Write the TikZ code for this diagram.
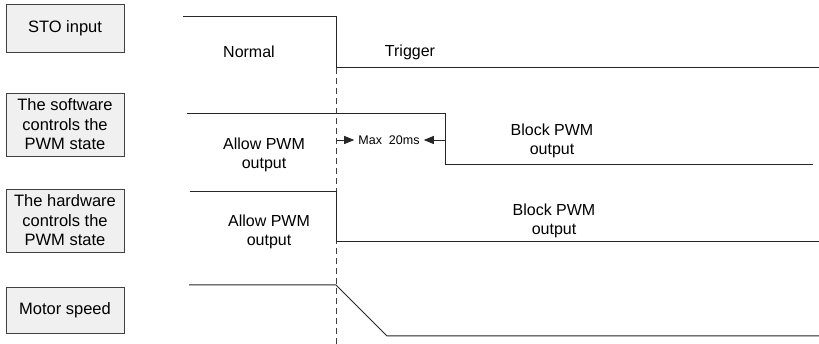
\documentclass[tikz,border=0pt]{standalone}
\usepackage{fontspec}
\setmainfont{Liberation Sans}
\usetikzlibrary{arrows.meta}
\begin{document}
\begin{tikzpicture}[x=1pt,y=-1pt,
  lbl/.style={draw=black!75,fill=black!6,line width=0.8pt,minimum width=118pt,align=center,inner sep=0pt,font=\fontsize{16.5}{19.5}\selectfont},
  wave/.style={draw=black!85,line width=1pt},
  txt/.style={align=center,inner sep=0pt,font=\fontsize{16}{19.5}\selectfont},
  small/.style={inner xsep=4pt,inner ysep=0pt,font=\fontsize{12.5}{14}\selectfont},
  marker/.style={draw=black!75,line width=0.8pt,dash pattern=on 6pt off 4pt},
  arr/.style={draw=black!85,line width=0.8pt,-{Triangle[length=10pt,width=8pt]}}]
\useasboundingbox (0,0) rectangle (819,344);
% label boxes
\node[lbl,minimum height=48pt] (sto) at (65,28) {STO input};
\node[lbl,minimum height=63pt] (sw) at (65,124.5) {The software\\controls the\\PWM state};
\node[lbl,minimum height=63pt] (hw) at (65,220.5) {The hardware\\controls the\\PWM state};
\node[lbl,minimum height=46pt] (ms) at (65,310) {Motor speed};
% dashed trigger marker
\coordinate (mtop) at (336,68);
\coordinate (mbot) at (336,344);
\draw[marker] (mtop) -- (mbot);
% STO waveform
\coordinate (s0) at (183,17);
\coordinate (s1) at (336,17);
\coordinate (s2) at (336,68);
\coordinate (s3) at (819,68);
\draw[wave] (s0) -- (s1) -- (s2) -- (s3);
\node[txt] (normal) at (249,52) {Normal};
\node[txt] (trig) at (410,52) {Trigger};
% software waveform
\coordinate (w0) at (187,114);
\coordinate (w1) at (445,114);
\coordinate (w2) at (445,165);
\coordinate (w3) at (813,165);
\draw[wave] (w0) -- (w1) -- (w2) -- (w3);
\node[txt] (swallow) at (264,155) {Allow PWM\\output};
\node[txt] (swblock) at (552,141) {Block PWM\\output};
\node[small] (max) at (389,140) {Max\ \ 20ms};
\coordinate (a0) at (336,140);
\coordinate (a1) at (445,140);
\draw[arr] (a0) -- (max.west);
\draw[arr] (a1) -- (max.east);
% hardware waveform
\coordinate (h0) at (190,192);
\coordinate (h1) at (336,192);
\coordinate (h2) at (336,242);
\coordinate (h3) at (819,242);
\draw[wave] (h0) -- (h1) -- (h2) -- (h3);
\node[txt] (hwallow) at (269,232) {Allow PWM\\output};
\node[txt] (hwblock) at (554,221) {Block PWM\\output};
% motor speed
\coordinate (m0) at (189,285);
\coordinate (m1) at (336,285);
\coordinate (m2) at (387,336);
\coordinate (m3) at (819,336);
\draw[wave] (m0) -- (m1) -- (m2) -- (m3);
\end{tikzpicture}
\end{document}
